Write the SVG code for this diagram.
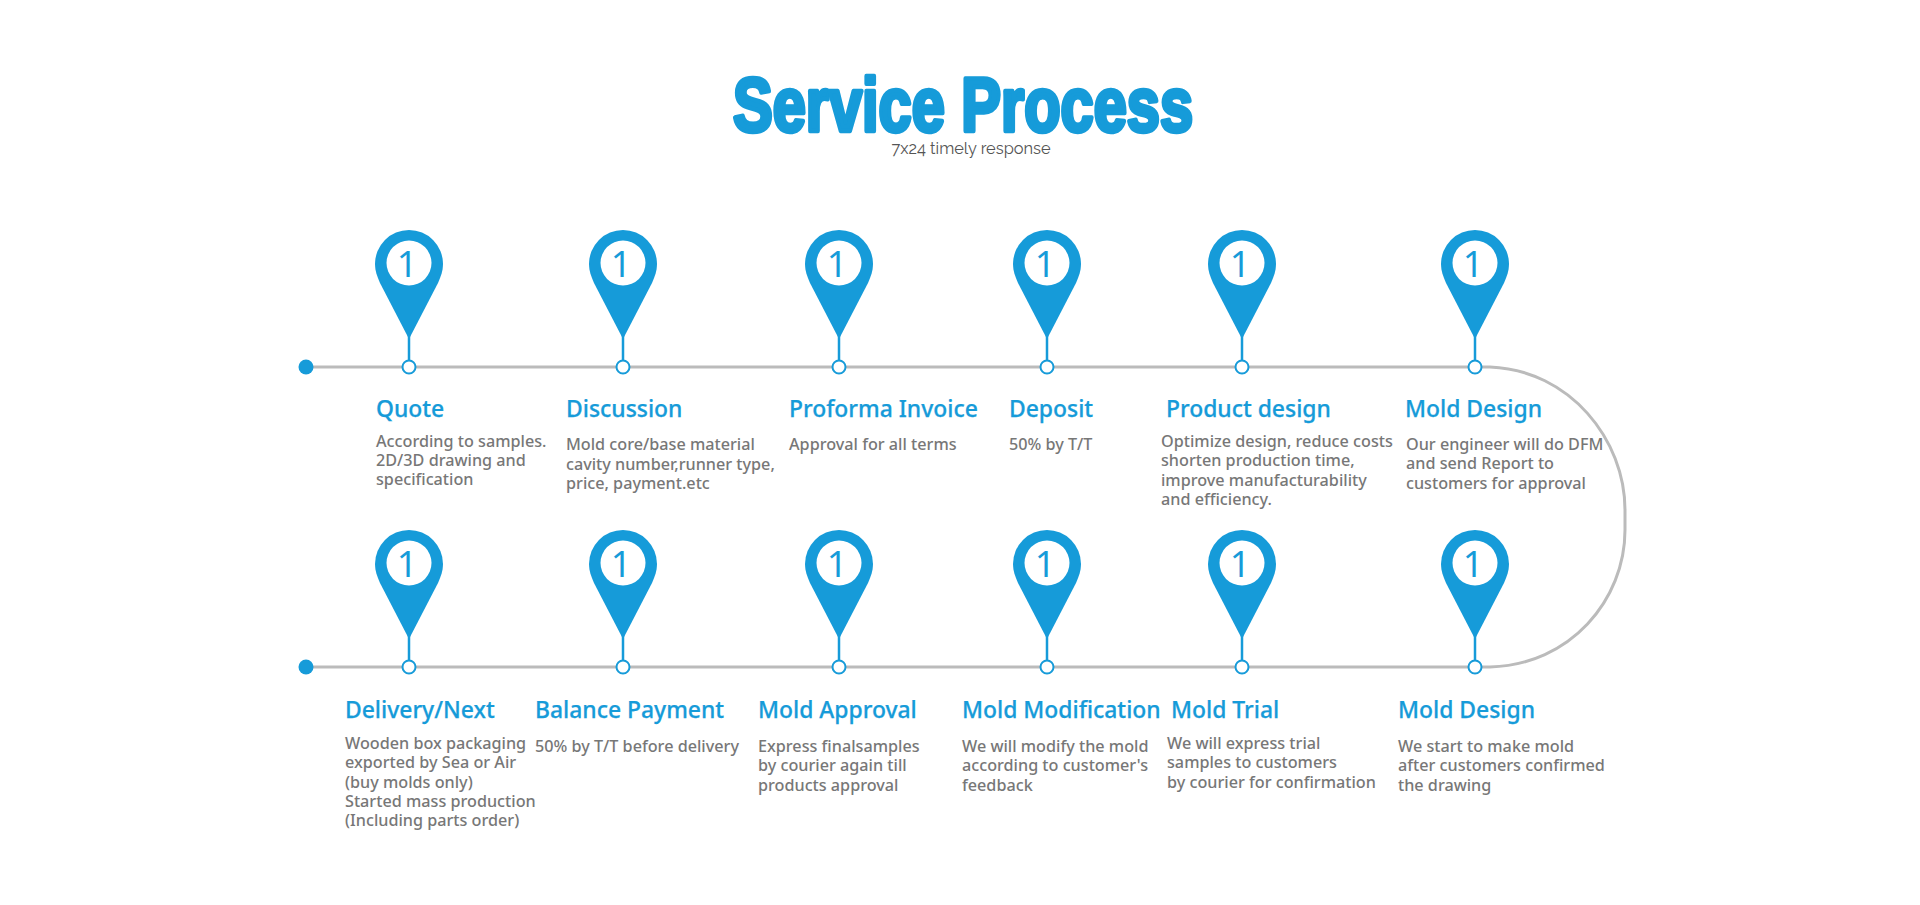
<svg xmlns="http://www.w3.org/2000/svg" width="1920" height="905" viewBox="0 0 1920 905">
<style>
text{font-family:"Noto Sans","Open Sans",sans-serif}
.h{font-size:22.9px;font-weight:500;fill:#169bd9;stroke:#169bd9;stroke-width:.25}
.b{font-size:16.2px;font-weight:500;fill:#777}
.n{font-size:36px;fill:#169bd9;text-anchor:middle;font-family:"Noto Sans",sans-serif}
.l{fill:none;stroke:#bbb;stroke-width:3}
.s{stroke:#169bd9;stroke-width:2.5}
.r{fill:#fff;stroke:#169bd9;stroke-width:2}
</style>
<defs>
<g id="pin">
<path d="M0 75L-29 19C-32 12-34 7-34 0A34 34 0 0 1 34 0C34 7 32 12 29 19Z" fill="#169bd9"/>
<circle cx="0" cy="-1" r="22.5" fill="#fff"/>
<line class="s" x1="0" y1="70" x2="0" y2="97"/>
<circle class="r" cx="0" cy="103" r="6.5"/>
</g>
</defs>
<rect width="1920" height="905" fill="#fff"/>
<g id="title">
<text x="733" y="131" font-size="76" font-weight="700" style="font-family:'Liberation Sans Narrow','Liberation Sans',sans-serif" fill="#169bd9" stroke="#169bd9" stroke-width="4.5" stroke-linejoin="round" textLength="460" lengthAdjust="spacingAndGlyphs">Service Process</text>
<text x="971" y="154" text-anchor="middle" font-size="16.4" fill="#555" style="font-family:'Raleway','Open Sans',sans-serif">7x24 timely response</text>
</g>
<g id="connectors">
<path class="l" d="M306 367H1490C1570 370 1625 440 1625 510V530C1625 600 1570 665 1490 667H306"/>
<circle cx="306" cy="367" r="7.5" fill="#169bd9"/>
<circle cx="306" cy="667" r="7.5" fill="#169bd9"/>
</g>
<g id="n1"><use href="#pin" x="409" y="264"/><text class="n" x="407" y="277">1</text><text class="h" x="376" y="417">Quote</text><text class="b"><tspan x="376" y="447">According to samples.</tspan><tspan x="376" y="466">2D/3D drawing and</tspan><tspan x="376" y="485">specification</tspan></text></g>
<g id="n2"><use href="#pin" x="623" y="264"/><text class="n" x="621" y="277">1</text><text class="h" x="566" y="417">Discussion</text><text class="b"><tspan x="566" y="450">Mold core/base material</tspan><tspan x="566" y="470">cavity number,runner type,</tspan><tspan x="566" y="489">price, payment.etc</tspan></text></g>
<g id="n3"><use href="#pin" x="839" y="264"/><text class="n" x="837" y="277">1</text><text class="h" x="789" y="417">Proforma Invoice</text><text class="b" x="789" y="450">Approval for all terms</text></g>
<g id="n4"><use href="#pin" x="1047" y="264"/><text class="n" x="1045" y="277">1</text><text class="h" x="1009" y="417">Deposit</text><text class="b" x="1009" y="450">50% by T/T</text></g>
<g id="n5"><use href="#pin" x="1242" y="264"/><text class="n" x="1240" y="277">1</text><text class="h" x="1166" y="417">Product design</text><text class="b"><tspan x="1161" y="447">Optimize design, reduce costs</tspan><tspan x="1161" y="466">shorten production time,</tspan><tspan x="1161" y="486">improve manufacturability</tspan><tspan x="1161" y="505">and efficiency.</tspan></text></g>
<g id="n6"><use href="#pin" x="1475" y="264"/><text class="n" x="1473" y="277">1</text><text class="h" x="1405" y="417">Mold Design</text><text class="b"><tspan x="1406" y="450">Our engineer will do DFM</tspan><tspan x="1406" y="469">and send Report to</tspan><tspan x="1406" y="489">customers for approval</tspan></text></g>
<g id="n7"><use href="#pin" x="409" y="564"/><text class="n" x="407" y="577">1</text><text class="h" x="345" y="718">Delivery/Next</text><text class="b"><tspan x="345" y="749">Wooden box packaging</tspan><tspan x="345" y="768">exported by Sea or Air</tspan><tspan x="345" y="788">(buy molds only)</tspan><tspan x="345" y="807">Started mass production</tspan><tspan x="345" y="826">(Including parts order)</tspan></text></g>
<g id="n8"><use href="#pin" x="623" y="564"/><text class="n" x="621" y="577">1</text><text class="h" x="535" y="718">Balance Payment</text><text class="b" x="535" y="752">50% by T/T before delivery</text></g>
<g id="n9"><use href="#pin" x="839" y="564"/><text class="n" x="837" y="577">1</text><text class="h" x="758" y="718">Mold Approval</text><text class="b"><tspan x="758" y="752">Express finalsamples</tspan><tspan x="758" y="771">by courier again till</tspan><tspan x="758" y="791">products approval</tspan></text></g>
<g id="n10"><use href="#pin" x="1047" y="564"/><text class="n" x="1045" y="577">1</text><text class="h" x="962" y="718">Mold Modification</text><text class="b"><tspan x="962" y="752">We will modify the mold</tspan><tspan x="962" y="771">according to customer's</tspan><tspan x="962" y="791">feedback</tspan></text></g>
<g id="n11"><use href="#pin" x="1242" y="564"/><text class="n" x="1240" y="577">1</text><text class="h" x="1171" y="718">Mold Trial</text><text class="b"><tspan x="1167" y="749">We will express trial</tspan><tspan x="1167" y="768">samples to customers</tspan><tspan x="1167" y="788">by courier for confirmation</tspan></text></g>
<g id="n12"><use href="#pin" x="1475" y="564"/><text class="n" x="1473" y="577">1</text><text class="h" x="1398" y="718">Mold Design</text><text class="b"><tspan x="1398" y="752">We start to make mold</tspan><tspan x="1398" y="771">after customers confirmed</tspan><tspan x="1398" y="791">the drawing</tspan></text></g>
</svg>
